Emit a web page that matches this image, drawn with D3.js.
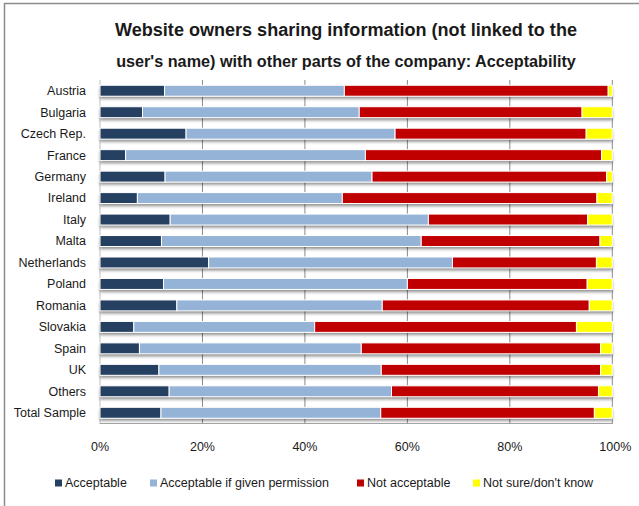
<!DOCTYPE html>
<html>
<head>
<meta charset="utf-8">
<script src="https://cdn.jsdelivr.net/npm/d3@7"></script>
<style>
  html, body { margin: 0; padding: 0; background: #fff; }
  svg { display: block; }
</style>
</head>
<body>
<svg id="chart" width="639" height="506"></svg>
<script>
const categories = ["Austria","Bulgaria","Czech Rep.","France","Germany","Ireland","Italy","Malta","Netherlands","Poland","Romania","Slovakia","Spain","UK","Others","Total Sample"];
const seriesNames = ["Acceptable","Acceptable if given permission","Not acceptable","Not sure/don't know"];
const acceptable =      [12.6, 8.3, 16.8, 5.0, 12.7, 7.3, 13.7, 12.0, 21.2, 12.4, 15.0, 6.6, 7.7, 11.5, 13.5, 11.9];
const withPermission =  [35.1, 42.3, 40.8, 46.8, 40.4, 40.0, 50.4, 50.7, 47.6, 47.6, 40.1, 35.3, 43.3, 43.4, 43.4, 42.9];
const notAcceptable =   [51.5, 43.5, 37.3, 46.1, 45.8, 49.7, 31.1, 34.9, 28.1, 35.1, 40.4, 51.1, 46.7, 42.8, 40.4, 41.7];
const notSure =         [0.8, 5.9, 5.1, 2.1, 1.1, 3.0, 4.8, 2.4, 3.1, 4.9, 4.5, 7.0, 2.3, 2.3, 2.7, 3.5];
const tickValues = [0, 20, 40, 60, 80, 100];
const colors = ["#254061", "#95B3D7", "#C00000", "#FFFF00"];
const titleLines = ["Website owners sharing information (not linked to the", "user's name) with other parts of the company: Acceptability"];

const svg = d3.select("#chart");
const font = "'Liberation Sans', Arial, sans-serif";

// outer frame lines (top and left)
svg.append("line").attr("x1", 4).attr("x2", 639).attr("y1", 3.5).attr("y2", 3.5).attr("stroke", "#8c8c8c").attr("stroke-width", 1.5);
svg.append("line").attr("x1", 4.5).attr("x2", 4.5).attr("y1", 3).attr("y2", 506).attr("stroke", "#8c8c8c").attr("stroke-width", 1.5);

// title (font size fitted to the reference width of ~460px)
const titleY = [36, 67];
const titleW = [462, 460];
titleLines.forEach((t, i) => {
  const tx = svg.append("text")
    .attr("x", 346).attr("y", titleY[i])
    .attr("text-anchor", "middle")
    .attr("font-family", font)
    .attr("font-weight", "bold")
    .attr("font-size", 20)
    .attr("fill", "#1a1a1a")
    .text(t);
  const w = tx.node().getComputedTextLength();
  if (w > 0) tx.attr("font-size", Math.min(20, 20 * titleW[i] / w));
});

const x = d3.scaleLinear().domain([0, 100]).range([100, 612.3]);
const y = d3.scaleBand().domain(categories).range([80, 423.5]).paddingInner(0.49).paddingOuter(0.245);

const defs = svg.append("defs");
const filt = defs.append("filter").attr("id", "shadow").attr("x", "-5%").attr("y", "-50%").attr("width", "110%").attr("height", "250%");
filt.append("feDropShadow").attr("dx", 0).attr("dy", 2.5).attr("stdDeviation", 1.6).attr("flood-color", "#000").attr("flood-opacity", 0.45);

// gridlines
svg.append("g").selectAll("line").data(tickValues).join("line")
  .attr("x1", d => x(d)).attr("x2", d => x(d))
  .attr("y1", 80).attr("y2", 424)
  .attr("stroke", d => d === 0 ? "#bfbfbf" : "#8a8a8a").attr("stroke-width", 1);
svg.append("line").attr("x1", 100).attr("x2", 612.3).attr("y1", 423.5).attr("y2", 423.5).attr("stroke", "#a6a6a6").attr("stroke-width", 1.2);

// stacked data
const rows = categories.map((c, i) => ({ cat: c, v: [acceptable[i], withPermission[i], notAcceptable[i], notSure[i]] }));
const table = rows.map(r => { const o = { cat: r.cat }; seriesNames.forEach((s, k) => o[s] = r.v[k]); return o; });
const stack = d3.stack().keys(seriesNames)(table);

// row shadows
svg.append("g").selectAll("rect").data(table).join("rect")
  .attr("x", x(0)).attr("width", x(100) - x(0))
  .attr("y", d => y(d.cat)).attr("height", y.bandwidth())
  .attr("fill", "#fff").attr("filter", "url(#shadow)");

svg.append("g").selectAll("g").data(stack).join("g")
  .attr("fill", (d, i) => colors[i])
  .selectAll("rect").data(d => d).join("rect")
  .attr("x", d => x(d[0]))
  .attr("width", d => Math.max(0, x(d[1]) - x(d[0])))
  .attr("y", d => y(d.data.cat))
  .attr("height", y.bandwidth())
  .attr("stroke", "#fff").attr("stroke-width", 1);

// y labels
svg.append("g").selectAll("text").data(categories).join("text")
  .attr("x", 86).attr("y", d => y(d) + y.bandwidth() / 2)
  .attr("dy", "0.35em")
  .attr("text-anchor", "end")
  .attr("font-family", font).attr("font-size", 12.5).attr("fill", "#1a1a1a")
  .text(d => d);

// x tick labels
svg.append("g").selectAll("text").data(tickValues).join("text")
  .attr("x", d => x(d) + (d === 100 ? 3 : 0)).attr("y", 447).attr("dy", "0.35em")
  .attr("text-anchor", "middle")
  .attr("font-family", font).attr("font-size", 12.5).attr("fill", "#1a1a1a")
  .text(d => d + "%");

// legend
const legendX = [55, 150, 357, 473];
const lg = svg.append("g").selectAll("g").data(seriesNames).join("g")
  .attr("transform", (d, i) => `translate(${legendX[i]},483)`);
lg.append("rect").attr("x", 0).attr("y", -3.5).attr("width", 7).attr("height", 7).attr("fill", (d, i) => colors[i]);
lg.append("text").attr("x", 10).attr("dy", "0.35em")
  .attr("font-family", font).attr("font-size", 12.5).attr("fill", "#1a1a1a")
  .text(d => d);
</script>
</body>
</html>
